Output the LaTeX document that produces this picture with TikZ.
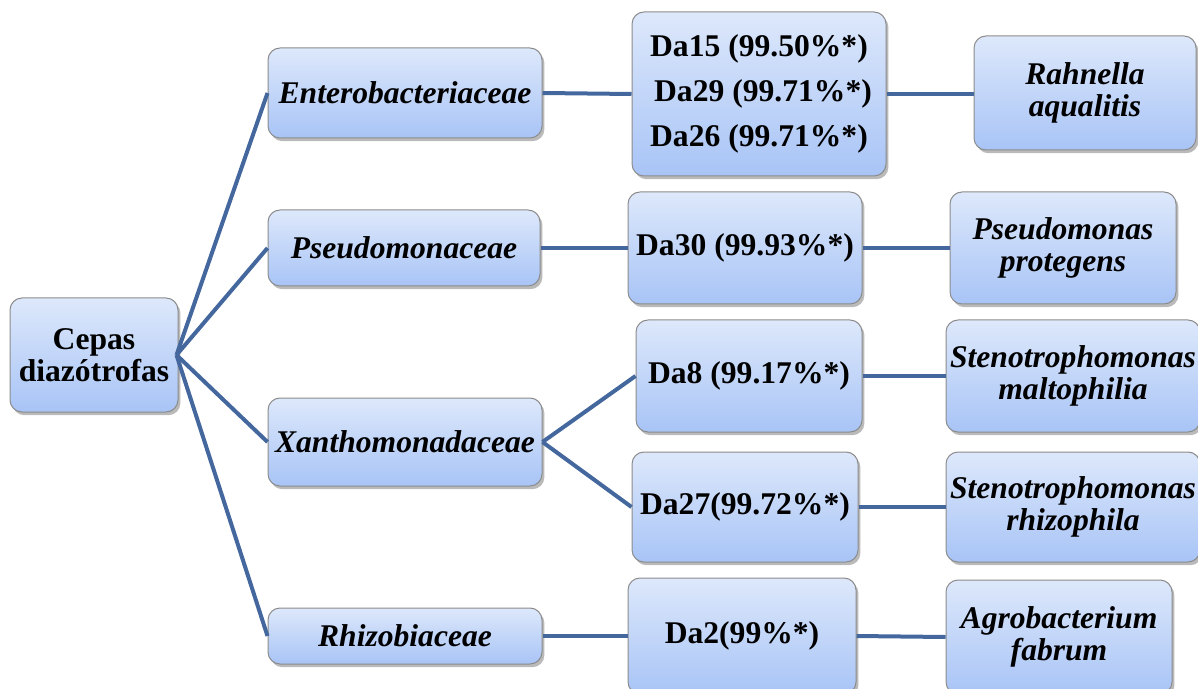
\documentclass[tikz,border=0pt]{standalone}
\usepackage{fontspec}
\setmainfont{Liberation Serif}
\usetikzlibrary{shadows}
\tikzset{
  box/.style={draw=black!45, line width=0.5pt, rounded corners=6pt,
    top color=boxtop, bottom color=boxbot, align=center, inner sep=0pt,
    font=\fontsize{15.8}{16}\selectfont\bfseries,
    drop shadow={shadow xshift=1.2pt, shadow yshift=-1.6pt, opacity=0.45, fill=black!60}},
  link/.style={draw=linkblue, line width=2pt}
}
\definecolor{boxtop}{HTML}{DDE8FB}
\definecolor{boxbot}{HTML}{A8C4F6}
\definecolor{linkblue}{HTML}{44689E}
\begin{document}
\begin{tikzpicture}[x=0.5pt,y=-0.5pt]
\useasboundingbox (0,0) rectangle (1198,689);
\node[box, minimum width=84pt, minimum height=57pt] (cepas) at (94,355) {Cepas\\diazótrofas};
\node[box, minimum width=137pt, minimum height=45pt] (ent) at (405,93) {\itshape Enterobacteriaceae};
\node[box, minimum width=136pt, minimum height=38pt] (pse) at (404,248) {\itshape Pseudomonaceae};
\node[box, minimum width=137pt, minimum height=44pt] (xan) at (405,442) {\itshape Xanthomonadaceae};
\node[box, minimum width=137pt, minimum height=28pt] (rhi) at (405,636) {\itshape Rhizobiaceae};
\node[box, minimum width=127pt, minimum height=82pt, font=\fontsize{15.8}{22.5}\selectfont\bfseries] (da15) at (759,94) {Da15 (99.50\%*)\\\hspace{4pt}Da29 (99.71\%*)\\Da26 (99.71\%*)};
\node[box, minimum width=117pt, minimum height=56pt] (da30) at (745,248) {Da30 (99.93\%*)};
\node[box, minimum width=113pt, minimum height=56pt] (da8) at (749,376) {Da8 (99.17\%*)};
\node[box, minimum width=113pt, minimum height=55pt] (da27) at (745,507) {Da27(99.72\%*)};
\node[box, minimum width=114pt, minimum height=58pt] (da2) at (742,636) {Da2(99\%*)};
\node[box, minimum width=111pt, minimum height=57pt] (rah) at (1085,93) {\itshape Rahnella\\\itshape aqualitis};
\node[box, minimum width=113pt, minimum height=56pt] (ppr) at (1063,248) {\itshape Pseudomonas\\\itshape protegens};
\node[box, minimum width=127pt, minimum height=56pt] (sma) at (1073,376) {\itshape Stenotrophomonas\\\itshape maltophilia};
\node[box, minimum width=127pt, minimum height=55pt] (srh) at (1073,507) {\itshape Stenotrophomonas\\\itshape rhizophila};
\node[box, minimum width=113pt, minimum height=57pt] (agr) at (1059,637) {\itshape Agrobacterium\\\itshape fabrum};
\coordinate (hub) at ([xshift=-1pt]cepas.east);
\draw[link] (hub) -- (ent.west);
\draw[link] (hub) -- (pse.west);
\draw[link] (hub) -- (xan.west);
\draw[link] (hub) -- (rhi.west);
\draw[link] (ent.east) -- (da15.west);
\draw[link] (pse.east) -- (da30.west);
\draw[link] (xan.east) -- (da8.west);
\draw[link] (xan.east) -- (da27.west);
\draw[link] (rhi.east) -- (da2.west);
\draw[link] (da15.east) -- (da15.east -| rah.west);
\draw[link] (da30.east) -- (ppr.west);
\draw[link] (da8.east) -- (sma.west);
\draw[link] (da27.east) -- (srh.west);
\draw[link] (da2.east) -- (agr.west);
\end{tikzpicture}
\end{document}
